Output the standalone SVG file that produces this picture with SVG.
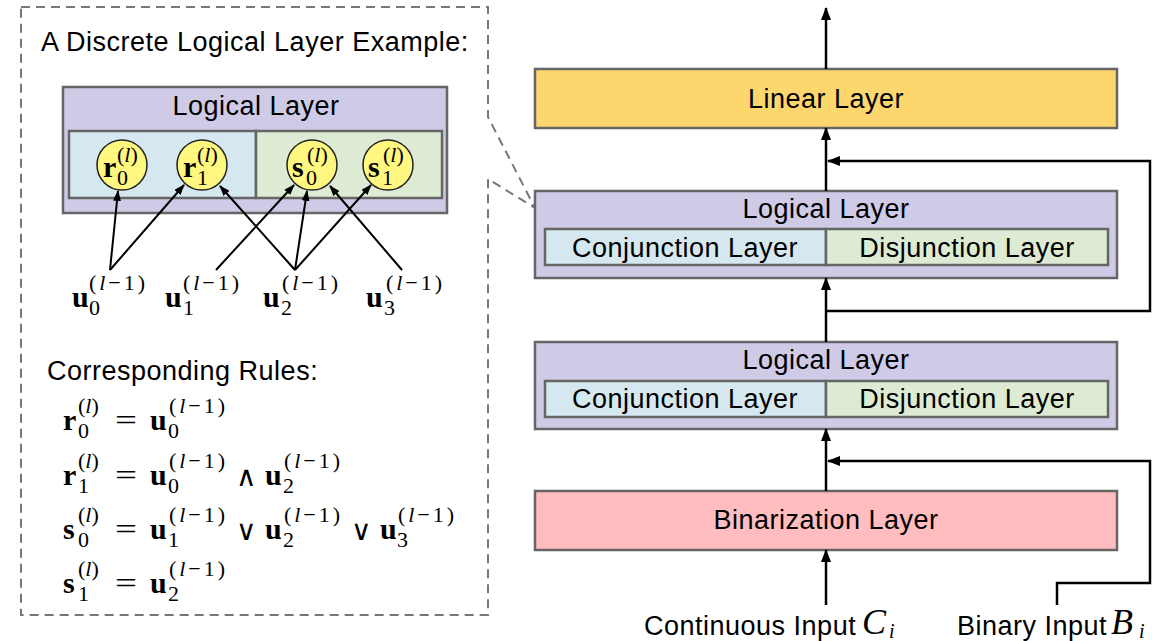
<svg xmlns="http://www.w3.org/2000/svg" width="1152" height="641" viewBox="0 0 1152 641">
<style>
.sans{font-family:"Liberation Sans",Arial,sans-serif;font-size:27px;letter-spacing:0.5px;fill:#000}
.c{text-anchor:middle}
.box{stroke:#666;stroke-width:2.5}
.mb{font-family:"Liberation Serif","DejaVu Serif",serif;font-weight:bold;font-size:30px;fill:#000}
.ms{font-family:"Liberation Serif","DejaVu Serif",serif;font-size:22px;fill:#000}
.mo{font-family:"Liberation Serif","DejaVu Serif",serif;font-size:30px;fill:#000}
.op{font-family:"DejaVu Sans","Liberation Serif",sans-serif;font-weight:200;font-size:28px;fill:#000}
.it{font-style:italic}
.mi{font-family:"Liberation Serif","DejaVu Serif",serif;font-style:italic;font-size:36px;fill:#000}
.mis{font-family:"Liberation Serif","DejaVu Serif",serif;font-style:italic;font-size:20px;fill:#000}
.ln{fill:none;stroke:#000;stroke-width:2.5}
.lns{fill:none;stroke:#000;stroke-width:2}
.node{fill:#FFF77F;stroke:#222;stroke-width:1.5}
</style>
<defs>
<marker id="ah" viewBox="0 0 13 10" refX="12" refY="5" markerWidth="13" markerHeight="10" orient="auto" markerUnits="userSpaceOnUse"><path d="M0,0 L13,5 L0,10 z" fill="#000"/></marker>
<marker id="ahs" viewBox="0 0 11 8" refX="10" refY="4" markerWidth="11" markerHeight="8" orient="auto" markerUnits="userSpaceOnUse"><path d="M0,0 L11,4 L0,8 z" fill="#000"/></marker>
</defs>

<g id="example-frame">
<path d="M21,7 H488 V117 L535,208 L488,179 V615 H21 Z" fill="none" stroke="#777" stroke-width="2" stroke-dasharray="9 6"/>
<text class="sans" x="41" y="51">A Discrete Logical Layer Example:</text>
</g>

<g id="example-logical-layer">
<rect class="box" x="63" y="87" width="384" height="126" fill="#CFCBE7"/>
<text class="sans c" x="256" y="115">Logical Layer</text>
<rect class="box" x="69" y="131" width="187" height="67" fill="#D5E8F0"/>
<rect class="box" x="256" y="131" width="186" height="67" fill="#DDEBD4"/>
</g>

<g id="node-r0">
<circle class="node" cx="122" cy="165" r="25"/>
<text class="mb" x="103" y="177">r</text><text class="ms" x="117" y="162">(<tspan class="it">l</tspan>)</text><text class="ms" x="117" y="185">0</text>
</g>
<g id="node-r1">
<circle class="node" cx="202" cy="165" r="25"/>
<text class="mb" x="183" y="177">r</text><text class="ms" x="197" y="162">(<tspan class="it">l</tspan>)</text><text class="ms" x="197" y="185">1</text>
</g>
<g id="node-s0">
<circle class="node" cx="312" cy="165" r="25"/>
<text class="mb" x="292" y="177">s</text><text class="ms" x="307" y="162">(<tspan class="it">l</tspan>)</text><text class="ms" x="306" y="185">0</text>
</g>
<g id="node-s1">
<circle class="node" cx="388" cy="165" r="25"/>
<text class="mb" x="368" y="177">s</text><text class="ms" x="383" y="162">(<tspan class="it">l</tspan>)</text><text class="ms" x="382" y="185">1</text>
</g>

<g id="input-u0"><text class="mb" x="72" y="307">u</text><text class="ms" x="89" y="290" textLength="56" lengthAdjust="spacing">(<tspan class="it">l</tspan>−1)</text><text class="ms" x="89" y="315">0</text></g>
<g id="input-u1"><text class="mb" x="165" y="307">u</text><text class="ms" x="183" y="290" textLength="56" lengthAdjust="spacing">(<tspan class="it">l</tspan>−1)</text><text class="ms" x="183" y="315">1</text></g>
<g id="input-u2"><text class="mb" x="263" y="307">u</text><text class="ms" x="282" y="290" textLength="56" lengthAdjust="spacing">(<tspan class="it">l</tspan>−1)</text><text class="ms" x="281" y="315">2</text></g>
<g id="input-u3"><text class="mb" x="366" y="307">u</text><text class="ms" x="386" y="290" textLength="56" lengthAdjust="spacing">(<tspan class="it">l</tspan>−1)</text><text class="ms" x="384" y="315">3</text></g>

<g id="rules">
<text class="sans" x="47" y="380">Corresponding Rules:</text>
<text class="mb" x="63" y="430">r</text><text class="ms" x="78" y="413">(<tspan class="it">l</tspan>)</text><text class="ms" x="78" y="438">0</text>
<text class="mo" x="115" y="430" textLength="22" lengthAdjust="spacingAndGlyphs">=</text>
<text class="mb" x="150" y="430">u</text><text class="ms" x="169" y="413" textLength="56" lengthAdjust="spacing">(<tspan class="it">l</tspan>−1)</text><text class="ms" x="168" y="438">0</text>

<text class="mb" x="63" y="485">r</text><text class="ms" x="78" y="468">(<tspan class="it">l</tspan>)</text><text class="ms" x="78" y="493">1</text>
<text class="mo" x="115" y="485" textLength="22" lengthAdjust="spacingAndGlyphs">=</text>
<text class="mb" x="150" y="485">u</text><text class="ms" x="169" y="468" textLength="56" lengthAdjust="spacing">(<tspan class="it">l</tspan>−1)</text><text class="ms" x="168" y="493">0</text>
<text class="op" x="236" y="486">∧</text>
<text class="mb" x="265" y="485">u</text><text class="ms" x="284" y="468" textLength="56" lengthAdjust="spacing">(<tspan class="it">l</tspan>−1)</text><text class="ms" x="283" y="493">2</text>

<text class="mb" x="63" y="539">s</text><text class="ms" x="78" y="522">(<tspan class="it">l</tspan>)</text><text class="ms" x="78" y="547">0</text>
<text class="mo" x="115" y="539" textLength="22" lengthAdjust="spacingAndGlyphs">=</text>
<text class="mb" x="150" y="539">u</text><text class="ms" x="169" y="522" textLength="56" lengthAdjust="spacing">(<tspan class="it">l</tspan>−1)</text><text class="ms" x="168" y="547">1</text>
<text class="op" x="236" y="540">∨</text>
<text class="mb" x="265" y="539">u</text><text class="ms" x="284" y="522" textLength="56" lengthAdjust="spacing">(<tspan class="it">l</tspan>−1)</text><text class="ms" x="283" y="547">2</text>
<text class="op" x="351" y="540">∨</text>
<text class="mb" x="380" y="539">u</text><text class="ms" x="398" y="522" textLength="56" lengthAdjust="spacing">(<tspan class="it">l</tspan>−1)</text><text class="ms" x="397" y="547">3</text>

<text class="mb" x="63" y="593">s</text><text class="ms" x="78" y="576">(<tspan class="it">l</tspan>)</text><text class="ms" x="78" y="601">1</text>
<text class="mo" x="115" y="593" textLength="22" lengthAdjust="spacingAndGlyphs">=</text>
<text class="mb" x="150" y="593">u</text><text class="ms" x="169" y="576" textLength="56" lengthAdjust="spacing">(<tspan class="it">l</tspan>−1)</text><text class="ms" x="168" y="601">2</text>
</g>

<g id="linear-layer">
<rect class="box" x="535" y="69" width="582" height="59" fill="#FED66E"/>
<text class="sans c" x="826" y="108">Linear Layer</text>
</g>

<g id="logical-layer-2">
<rect class="box" x="535" y="191" width="582" height="87" fill="#CFCBE7"/>
<text class="sans c" x="826" y="218">Logical Layer</text>
<rect class="box" x="545" y="229" width="281" height="36" fill="#D5E8F0"/>
<rect class="box" x="826" y="229" width="282" height="36" fill="#DDEBD4"/>
<text class="sans c" x="685" y="257">Conjunction Layer</text>
<text class="sans c" x="967" y="257">Disjunction Layer</text>
</g>

<g id="logical-layer-1">
<rect class="box" x="535" y="342" width="582" height="87" fill="#CFCBE7"/>
<text class="sans c" x="826" y="369">Logical Layer</text>
<rect class="box" x="545" y="381" width="281" height="36" fill="#D5E8F0"/>
<rect class="box" x="826" y="381" width="282" height="36" fill="#DDEBD4"/>
<text class="sans c" x="685" y="408">Conjunction Layer</text>
<text class="sans c" x="967" y="408">Disjunction Layer</text>
</g>

<g id="binarization-layer">
<rect class="box" x="535" y="491" width="582" height="59" fill="#FFBDBF"/>
<text class="sans c" x="826" y="529">Binarization Layer</text>
</g>

<g id="input-continuous">
<text class="sans" x="644" y="635">Continuous Input</text>
<text class="mi" x="862" y="634">C</text><text class="mis" x="889" y="638">i</text>
</g>
<g id="input-binary">
<text class="sans" x="957" y="635">Binary Input</text>
<text class="mi" x="1111" y="634">B</text><text class="mis" x="1139" y="638">i</text>
</g>

<g id="connectors">
<line class="lns" x1="110" y1="270" x2="118" y2="191" marker-end="url(#ahs)"/>
<line class="lns" x1="110" y1="270" x2="184" y2="185" marker-end="url(#ahs)"/>
<line class="lns" x1="216" y1="270" x2="294" y2="185" marker-end="url(#ahs)"/>
<line class="lns" x1="295" y1="270" x2="220" y2="186" marker-end="url(#ahs)"/>
<line class="lns" x1="295" y1="270" x2="307" y2="191" marker-end="url(#ahs)"/>
<line class="lns" x1="295" y1="270" x2="371" y2="185" marker-end="url(#ahs)"/>
<line class="lns" x1="402" y1="270" x2="330" y2="186" marker-end="url(#ahs)"/>

<line class="ln" x1="826" y1="69" x2="826" y2="8" marker-end="url(#ah)"/>
<line class="ln" x1="826" y1="191" x2="826" y2="128" marker-end="url(#ah)"/>
<line class="ln" x1="826" y1="342" x2="826" y2="278" marker-end="url(#ah)"/>
<line class="ln" x1="826" y1="491" x2="826" y2="429" marker-end="url(#ah)"/>
<line class="ln" x1="826" y1="605" x2="826" y2="550" marker-end="url(#ah)"/>
<path class="ln" d="M826,311 H1150 V161 H828" marker-end="url(#ah)"/>
<path class="ln" d="M1057,605 V583 H1150 V461 H828" marker-end="url(#ah)"/>
</g>
</svg>
